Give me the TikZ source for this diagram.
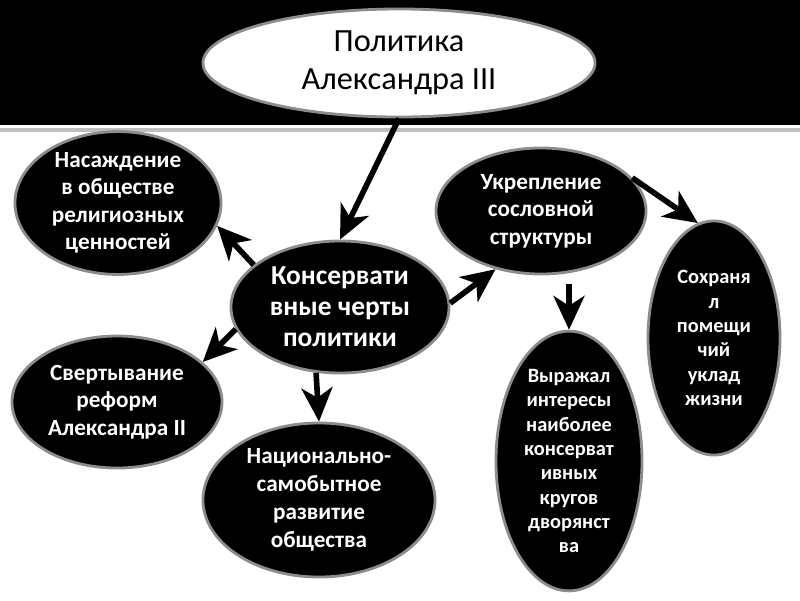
\documentclass[tikz,border=0pt]{standalone}
\usepackage{fontspec}
\setmainfont{Carlito}
\usetikzlibrary{shapes.geometric,arrows.meta}

\tikzset{
    blob/.style={ellipse,fill=black,draw=black!45,line width=2pt,text=white,
        align=center,inner sep=0pt,font=\bfseries\fontsize{16.5}{19.5}\selectfont},
    arr/.style={line width=4pt,-{Stealth[length=24pt,width=22pt,inset=7pt]}}
}

\begin{document}
\begin{tikzpicture}[x=0.025cm,y=-0.025cm]
    \useasboundingbox (0,0) rectangle (800,600);
    \fill[white] (0,0) rectangle (800,600);

    % Top band
    \fill[black] (0,0) rectangle (800,125);
    \draw[black!25,line width=3pt] (0,130) -- (800,130);

    % Title
    \node[ellipse,fill=white,draw=black!45,line width=2pt,inner sep=0pt,align=center,
        minimum width=9.8cm,minimum height=2.7cm,font=\fontsize{23}{27}\selectfont]
        (pol) at (399,63) {Политика\\Александра III};

    % Central node
    \node[blob,minimum width=5.45cm,minimum height=3.3cm,
        font=\bfseries\fontsize{19.5}{22}\selectfont]
        (cons) at (340,307) {Консервати\\вные черты\\политики};

    % Left side
    \node[blob,minimum width=5.15cm,minimum height=3.4cm]
        (relig) at (118,203) {Насаждение\\в обществе\\религиозных\\ценностей};
    \node[blob,minimum width=5.25cm,minimum height=3.3cm]
        (svert) at (117,402) {Свертывание\\реформ\\Александра II};
    \node[blob,minimum width=5.8cm,minimum height=3.85cm,
        font=\bfseries\fontsize{16.5}{20}\selectfont]
        (nat) at (319,500) {Национально-\\самобытное\\развитие\\общества};

    % Right side
    \node[blob,minimum width=5.25cm,minimum height=3.15cm]
        (ukrep) at (541,211) {Укрепление\\сословной\\структуры};
    \node[blob,minimum width=3.65cm,minimum height=5.9cm,
        font=\bfseries\fontsize{14.5}{17.3}\selectfont]
        (vyr) at (569,461) {Выражал\\интересы\\наиболее\\консерват\\ивных\\кругов\\дворянст\\ва};
    \node[blob,minimum width=3.3cm,minimum height=5.85cm,
        font=\bfseries\fontsize{14.5}{17.3}\selectfont]
        (sohr) at (714,338) {Сохраня\\л\\помещи\\чий\\уклад\\жизни};

    % Arrows
    \draw[arr] (pol.south) -- (cons.north);
    \draw[arr] (cons.154) -- (relig.347);
    \draw[arr] (cons.192) -- (svert.25);
    \draw[arr] (cons.2) -- (ukrep.232);
    \draw[arr] (cons.250) -- (nat.north);
    \draw[arr,shorten <=6pt] (vyr.north |- ukrep.south) -- (vyr.north);
    \draw[arr] (ukrep.20) -- (sohr.98);
\end{tikzpicture}
\end{document}
